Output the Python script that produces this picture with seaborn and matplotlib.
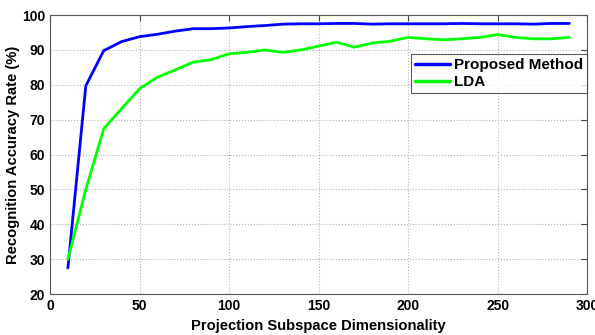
import matplotlib

matplotlib.use("Agg")
import matplotlib.pyplot as plt
import pandas as pd
import seaborn as sns

dims = list(range(10, 300, 10))
proposed = [27.5, 79.7, 89.8, 92.4, 93.8, 94.5, 95.4, 96.1, 96.1, 96.3,
            96.7, 97.0, 97.4, 97.5, 97.5, 97.6, 97.6, 97.4, 97.5, 97.5,
            97.5, 97.5, 97.6, 97.5, 97.5, 97.5, 97.4, 97.6, 97.6]
lda = [30.0, 50.0, 67.4, 73.2, 78.9, 82.2, 84.3, 86.5, 87.2, 88.9,
       89.3, 90.0, 89.3, 90.0, 91.1, 92.2, 90.8, 92.0, 92.5, 93.6,
       93.2, 92.9, 93.2, 93.6, 94.4, 93.6, 93.2, 93.2, 93.6]
labels = ["Proposed Method", "LDA"]

df = pd.DataFrame({
    "dim": dims * 2,
    "acc": proposed + lda,
    "method": [labels[0]] * len(dims) + [labels[1]] * len(dims),
})

sns.set_style("white")
plt.rcParams["font.family"] = ["Liberation Sans", "DejaVu Sans"]
plt.rcParams["font.weight"] = "bold"
plt.rcParams["text.color"] = "black"
plt.rcParams["axes.labelcolor"] = "black"
plt.rcParams["xtick.color"] = "black"
plt.rcParams["ytick.color"] = "black"

fig = plt.figure(figsize=(5.95, 3.35), dpi=100)
ax = fig.add_axes([0.084, 0.122, 0.903, 0.833])
sns.lineplot(data=df, x="dim", y="acc", hue="method",
             palette={labels[0]: "#0000ff", labels[1]: "#00ff00"},
             linewidth=2, ax=ax)

ax.set_xlim(0, 300)
ax.set_ylim(20, 100)
ax.set_xticks(range(0, 301, 50))
ax.set_yticks(range(20, 101, 10))
ax.grid(True, linestyle=":", color="#b0b0b0", linewidth=0.8)
ax.tick_params(direction="in", top=True, right=True, length=4, labelsize=10,
               color="#444444")
for lab in ax.get_xticklabels() + ax.get_yticklabels():
    lab.set_fontweight("bold")
for sp in ax.spines.values():
    sp.set_color("#555555")
    sp.set_linewidth(0.8)

ax.set_xlabel("Projection Subspace Dimensionality", fontsize=10.6, fontweight="bold")
ax.set_ylabel("Recognition Accuracy Rate (%)", fontsize=10.6, fontweight="bold",
              labelpad=1)

leg = ax.legend(loc="upper right", bbox_to_anchor=(1.0, 0.86), fontsize=11,
                frameon=True, fancybox=False, edgecolor="#333333",
                handlelength=2.3, borderpad=0.25, labelspacing=0.2,
                handletextpad=0.3, borderaxespad=0)
leg.get_frame().set_linewidth(0.8)
for t in leg.get_texts():
    t.set_fontweight("bold")
for ln in leg.get_lines():
    ln.set_linewidth(2.5)

fig.savefig("out.png", dpi=100)
